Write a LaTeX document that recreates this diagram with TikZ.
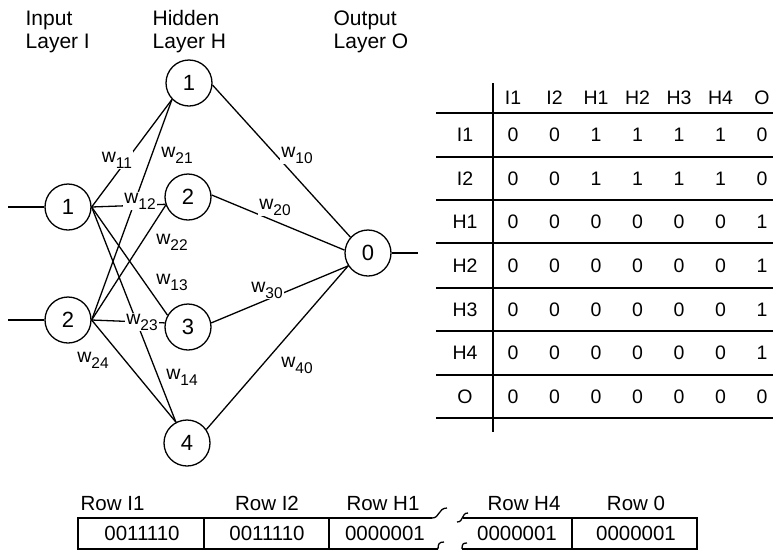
\documentclass[tikz,border=0pt]{standalone}
\usepackage{fontspec}
\setmainfont{Liberation Sans}
\newcommand{\wsub}[1]{w\raisebox{-0.3em}{\fontsize{15.5}{15.5}\selectfont #1}}
\newcommand{\tabrow}[3]{%
  \node[cell] (r#1) at (465,#2) {#1};
  \foreach \v [count=\c] in {#3} {
    \node[cell] (c#1-\c) at ({513+41.5*(\c-1)},#2) {\v};
  }%
}
\begin{document}
\begin{tikzpicture}[x=1pt,y=-1pt,line width=1.3pt,
  neuron/.style={circle,draw,minimum size=46pt,inner sep=0pt,fill=white,font=\fontsize{22}{22}\selectfont},
  wlab/.style={fill=white,inner sep=1pt,font=\fontsize{19.5}{19.5}\selectfont},
  head/.style={anchor=base west,inner sep=0pt,font=\fontsize{21}{21}\selectfont},
  cell/.style={inner sep=0pt,font=\fontsize{19.5}{19.5}\selectfont},
  rowlab/.style={anchor=base,inner sep=0pt,font=\fontsize{20.5}{20.5}\selectfont},
  bits/.style={inner sep=0pt,font=\fontsize{20.5}{20.5}\selectfont}]
\useasboundingbox (0,0) rectangle (773,555);

% layer headings
\node[head] (hin1) at (25,25) {Input};
\node[head] (hin2) at (25,48) {Layer I};
\node[head] (hhid1) at (152,25) {Hidden};
\node[head] (hhid2) at (152,48) {Layer H};
\node[head] (hout1) at (333,25) {Output};
\node[head] (hout2) at (333,48) {Layer O};

% neurons
\node[neuron] (I1) at (68,207) {1};
\node[neuron] (I2) at (68,320) {2};
\node[neuron] (H1) at (189,83) {1};
\node[neuron] (H2) at (188,197) {2};
\node[neuron] (H3) at (188,327) {3};
\node[neuron] (H4) at (187,443) {4};
\node[neuron] (O) at (368,253) {0};

\coordinate (in1) at (8,207);
\coordinate (in2) at (8,320);
\coordinate (out) at (418,253);
\draw (in1) -- (I1);
\draw (in2) -- (I2);
\draw (O) -- (out);

% input -> hidden
\draw (I1.east) -- (H1.224);
\draw (I2.east) -- (H1.224);
\draw (I1.east) -- (H2.198);
\draw (I2.east) -- (H2.200);
\draw (I1.east) -- (H3.150);
\draw (I2.east) -- (H3.170);
\draw (I1.east) -- (H4.118);
\draw (I2.east) -- (H4.118);
% hidden -> output
\draw (H1.-5) -- (O.138);
\draw (H2.5) -- (O.173);
\draw (H3.10) -- (O.213);
\draw (H4.35) -- (O.213);

% weight labels
\node[wlab] (w11) at (117,160) {\wsub{11}};
\node[wlab] (w21) at (177,155) {\wsub{21}};
\node[wlab] (w10) at (297,155) {\wsub{10}};
\node[wlab] (w12) at (140,201) {\wsub{12}};
\node[wlab] (w20) at (275,207) {\wsub{20}};
\node[wlab] (w22) at (172,242) {\wsub{22}};
\node[wlab] (w13) at (172,282) {\wsub{13}};
\node[wlab] (w30) at (267,290) {\wsub{30}};
\node[wlab] (w23) at (142,322) {\wsub{23}};
\node[wlab] (w24) at (93,360) {\wsub{24}};
\node[wlab] (w14) at (182,377) {\wsub{14}};
\node[wlab] (w40) at (297,365) {\wsub{40}};

% adjacency table
\foreach \lab [count=\c] in {I1,I2,H1,H2,H3,H4,O} {
  \node[cell] (col\c) at ({513+41.5*(\c-1)},98) {\lab};
}
\tabrow{I1}{135}{0,0,1,1,1,1,0}
\tabrow{I2}{178.5}{0,0,1,1,1,1,0}
\tabrow{H1}{222}{0,0,0,0,0,0,1}
\tabrow{H2}{265.5}{0,0,0,0,0,0,1}
\tabrow{H3}{309.5}{0,0,0,0,0,0,1}
\tabrow{H4}{353}{0,0,0,0,0,0,1}
\tabrow{O}{396.5}{0,0,0,0,0,0,0}
\foreach \y in {113,157,200,243,288,331,375,418} {
  \draw (436,\y) -- (773,\y);
}
\draw (493,83) -- (493,432);

% row-major storage
\node[rowlab,anchor=base west] (lr1) at (80,510) {Row I1};
\node[rowlab] (lr2) at (267,510) {Row I2};
\node[rowlab] (lr3) at (383,510) {Row H1};
\node[rowlab] (lr4) at (524,510) {Row H4};
\node[rowlab] (lr5) at (636,510) {Row 0};
\node[bits] (b1) at (142,533.5) {0011110};
\node[bits] (b2) at (267,533.5) {0011110};
\node[bits] (b3) at (385,533.5) {0000001};
\node[bits] (b4) at (517,533.5) {0000001};
\node[bits] (b5) at (636,533.5) {0000001};

\draw (432,518) -- (78,518) -- (78,549) -- (438,549);
\draw (204,518) -- (204,549);
\draw (329,518) -- (329,549);
\draw (432,518) .. controls (440,518) and (438,508) .. (447,508);
\draw (438,549) .. controls (438,544) and (439,542) .. (444,542);
\draw (457,522) .. controls (464,522) and (461,513) .. (468,513);
\draw (463,518) -- (697,518) -- (697,549) -- (462,549);
\draw (462,549) .. controls (462,544) and (463,543) .. (467,543);
\draw (572,518) -- (572,549);
\end{tikzpicture}
\end{document}
